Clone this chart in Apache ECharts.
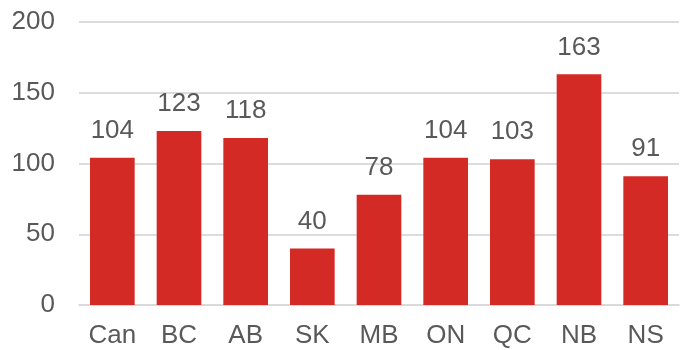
<!DOCTYPE html>
<html>
<head>
<meta charset="utf-8">
<script src="https://cdn.jsdelivr.net/npm/echarts@6/dist/echarts.min.js"></script>
<style>
  html, body { margin: 0; padding: 0; background: #fff; }
  #chart { width: 685px; height: 350px; }
</style>
</head>
<body>
<div id="chart"></div>
<script>
// Provinces and their index values
const categories = ['Can', 'BC', 'AB', 'SK', 'MB', 'ON', 'QC', 'NB', 'NS'];
const values = [104, 123, 118, 40, 78, 104, 103, 163, 91];
const yTicks = { min: 0, max: 200, interval: 50 };

const textColor = '#595959';
const fontFamily = 'Liberation Sans, Arial, sans-serif';
const fontSize = 26;

const chart = echarts.init(document.getElementById('chart'), null, { renderer: 'canvas' });
chart.setOption({
  animation: false,
  grid: { left: 79, right: 6, top: 22, bottom: 45, containLabel: false },
  xAxis: {
    type: 'category',
    data: categories,
    axisLine: { show: true, lineStyle: { color: '#d9d9d9', width: 1.5 } },
    axisTick: { show: false },
    axisLabel: { color: textColor, fontSize, fontFamily, margin: 18 }
  },
  yAxis: {
    type: 'value',
    min: yTicks.min,
    max: yTicks.max,
    interval: yTicks.interval,
    axisLine: { show: false },
    axisTick: { show: false },
    axisLabel: { color: textColor, fontSize, fontFamily, margin: 24 },
    splitLine: { lineStyle: { color: '#d0d0d0', width: 1.5 } }
  },
  series: [{
    type: 'bar',
    data: values,
    barCategoryGap: '33%',
    itemStyle: { color: '#d42a26' },
    label: {
      show: true,
      position: 'top',
      distance: 14,
      color: textColor,
      fontSize,
      fontFamily
    }
  }]
});
</script>
</body>
</html>
